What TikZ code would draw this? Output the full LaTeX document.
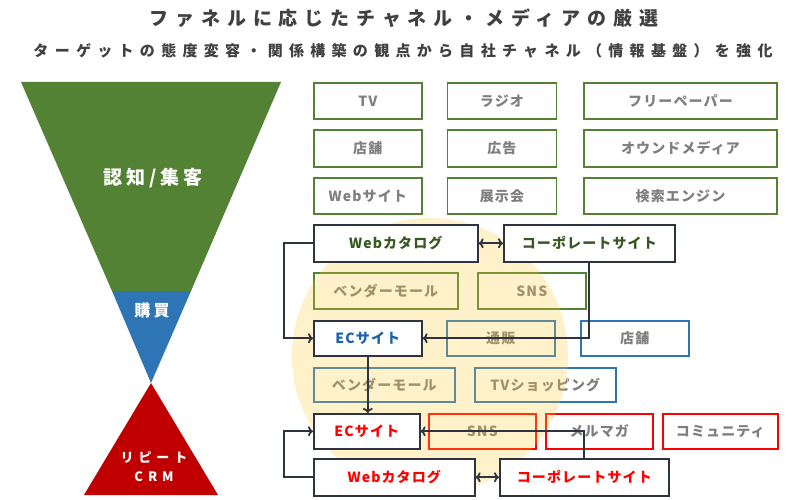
\documentclass[tikz,border=0pt]{standalone}
\usepackage{fontspec}
\newfontfamily\jpfont{Noto Sans CJK JP}
\newfontfamily\jptitle[LetterSpace=36]{Noto Sans CJK JP}
\newfontfamily\jpsub[LetterSpace=42]{Noto Sans CJK JP}
\newfontfamily\jpbox[LetterSpace=8]{Noto Sans CJK JP}
\newfontfamily\jpfunnel[LetterSpace=20]{Noto Sans CJK JP}
\newfontfamily\jprepeat[LetterSpace=38]{Noto Sans CJK JP}
\usepackage{xcolor}
\definecolor{fnlgreen}{RGB}{84,130,53}
\definecolor{fnlblue}{RGB}{46,117,182}
\definecolor{fnlred}{RGB}{192,0,0}
\definecolor{txtgreen}{RGB}{56,87,35}
\definecolor{txtblue}{RGB}{25,98,172}
\definecolor{chred}{RGB}{255,0,0}
\definecolor{chgrey}{RGB}{127,127,127}
\definecolor{titlegrey}{RGB}{64,64,64}
\definecolor{linedark}{RGB}{45,52,64}
\definecolor{circyel}{RGB}{255,204,51}
\usetikzlibrary{arrows.meta,positioning,shadows}
\tikzset{
  chbox/.style={draw,line width=1.6pt,rectangle,anchor=north west,inner sep=0pt,font=\jpbox\bfseries\fontsize{14}{16}\selectfont,text=chgrey},
  gbox/.style={chbox,draw=fnlgreen},
  bbox/.style={chbox,draw=fnlblue},
  rbox/.style={chbox,draw=chred},
  hub/.style={chbox,draw=linedark,fill=white,drop shadow={opacity=0.25,shadow xshift=1.5pt,shadow yshift=-1.5pt}},
  fnl/.style={align=center,text=white,font=\jpfunnel\bfseries},
  arr/.style={-{To[length=5pt,width=10pt]},line width=1.8pt,draw=linedark},
  darr/.style={{To[length=5pt,width=10pt]}-{To[length=5pt,width=10pt]},line width=1.8pt,draw=linedark},
}

\begin{document}
\begin{tikzpicture}[x=1pt,y=-1pt]
    \fill[white] (0,0) rectangle (800,500);
    \useasboundingbox (0,0) rectangle (800,500);

    % title
    \node[font=\jptitle\bfseries\fontsize{19}{22}\selectfont,text=titlegrey] (title) at (404,18) {ファネルに応じたチャネル・メディアの厳選};
    \node[font=\jpsub\bfseries\fontsize{15}{18}\selectfont,text=titlegrey] (subtitle) at (403,51) {ターゲットの態度変容・関係構築の観点から自社チャネル（情報基盤）を強化};

    % funnel
    \fill[fnlgreen] (21,82) -- (281,82) -- (191,291) -- (112,291) -- cycle;
    \fill[fnlblue] (112,291) -- (191,291) -- (151,383) -- cycle;
    \fill[fnlred] (151,383) -- (218,495) -- (84,495) -- cycle;
    \node[fnl,font=\jpfunnel\bfseries\fontsize{19}{22}\selectfont] (aware) at (153,178) {認知/集客};
    \node[fnl,font=\jpfunnel\bfseries\fontsize{16}{18}\selectfont] (buy) at (152,310) {購買};
    \node[fnl,font=\jprepeat\bfseries\fontsize{13}{19}\selectfont] (repeat) at (154,467) {リピート\\CRM};

    % awareness channels
    \node[gbox,minimum width=108,minimum height=36] (tv) at (313,82) {TV};
    \node[gbox,minimum width=109,minimum height=36,right=24 of tv] (radio) {ラジオ};
    \node[gbox,minimum width=193,minimum height=36,right=26 of radio] (free) {フリーペーパー};
    \node[gbox,minimum width=108,minimum height=37] (shopA) at (313,129) {店舗};
    \node[gbox,minimum width=109,minimum height=37,right=24 of shopA] (ad) {広告};
    \node[gbox,minimum width=193,minimum height=37,right=26 of ad] (owned) {オウンドメディア};
    \node[gbox,minimum width=108,minimum height=36] (web) at (313,177) {Webサイト};
    \node[gbox,minimum width=109,minimum height=36,right=24 of web] (expo) {展示会};
    \node[gbox,minimum width=193,minimum height=36,right=26 of expo] (search) {検索エンジン};

    % channels under the circle
    \node[gbox,minimum width=144,minimum height=36] (mallG) at (313,272) {ベンダーモール};
    \node[gbox,minimum width=108,minimum height=36] (snsG) at (477,272) {SNS};
    \node[bbox,minimum width=108,minimum height=35] (mailorder) at (446,320) {通販};
    \node[bbox,minimum width=108,minimum height=35] (shopB) at (580,320) {店舗};
    \node[bbox,minimum width=141,minimum height=34] (mallB) at (313,367) {ベンダーモール};
    \node[bbox,minimum width=141,minimum height=34] (tvshop) at (474,367) {TVショッピング};
    \node[rbox,minimum width=107,minimum height=35] (snsR) at (428,413) {SNS};
    \node[rbox,minimum width=107,minimum height=35] (mag) at (545,413) {メルマガ};
    \node[rbox,minimum width=115,minimum height=35] (comm) at (662,413) {コミュニティ};

    \fill[circyel,fill opacity=0.25] (430,356) circle (138pt);

    % own channels
    \node[hub,minimum width=164,minimum height=37,text=txtgreen] (catG) at (313,224) {Webカタログ};
    \node[hub,minimum width=171,minimum height=37,text=txtgreen] (corpG) at (503,224) {コーポレートサイト};
    \node[hub,minimum width=108,minimum height=35,text=txtblue] (ecB) at (313,320) {ECサイト};
    \node[hub,minimum width=106,minimum height=35,text=chred] (ecR) at (313,413) {ECサイト};
    \node[hub,minimum width=161,minimum height=37,text=chred] (catR) at (313,458) {Webカタログ};
    \node[hub,minimum width=169,minimum height=37,text=chred] (corpR) at (499,458) {コーポレートサイト};

    \draw[darr] (catG) -- (corpG);
    \draw[arr] (catG.west) -- ++(-29,0) |- (ecB.west);
    \draw[arr] (corpG.south) |- (ecB.east);
    \draw[arr] (ecB.south) -- (ecB.south |- ecR.north);
    \draw[darr] (catR) -- (corpR);
    \draw[arr] (catR.west) -- ++(-29,0) |- (ecR.west);
    \draw[arr] (corpR.north) |- (ecR.east);
\end{tikzpicture}
\end{document}
